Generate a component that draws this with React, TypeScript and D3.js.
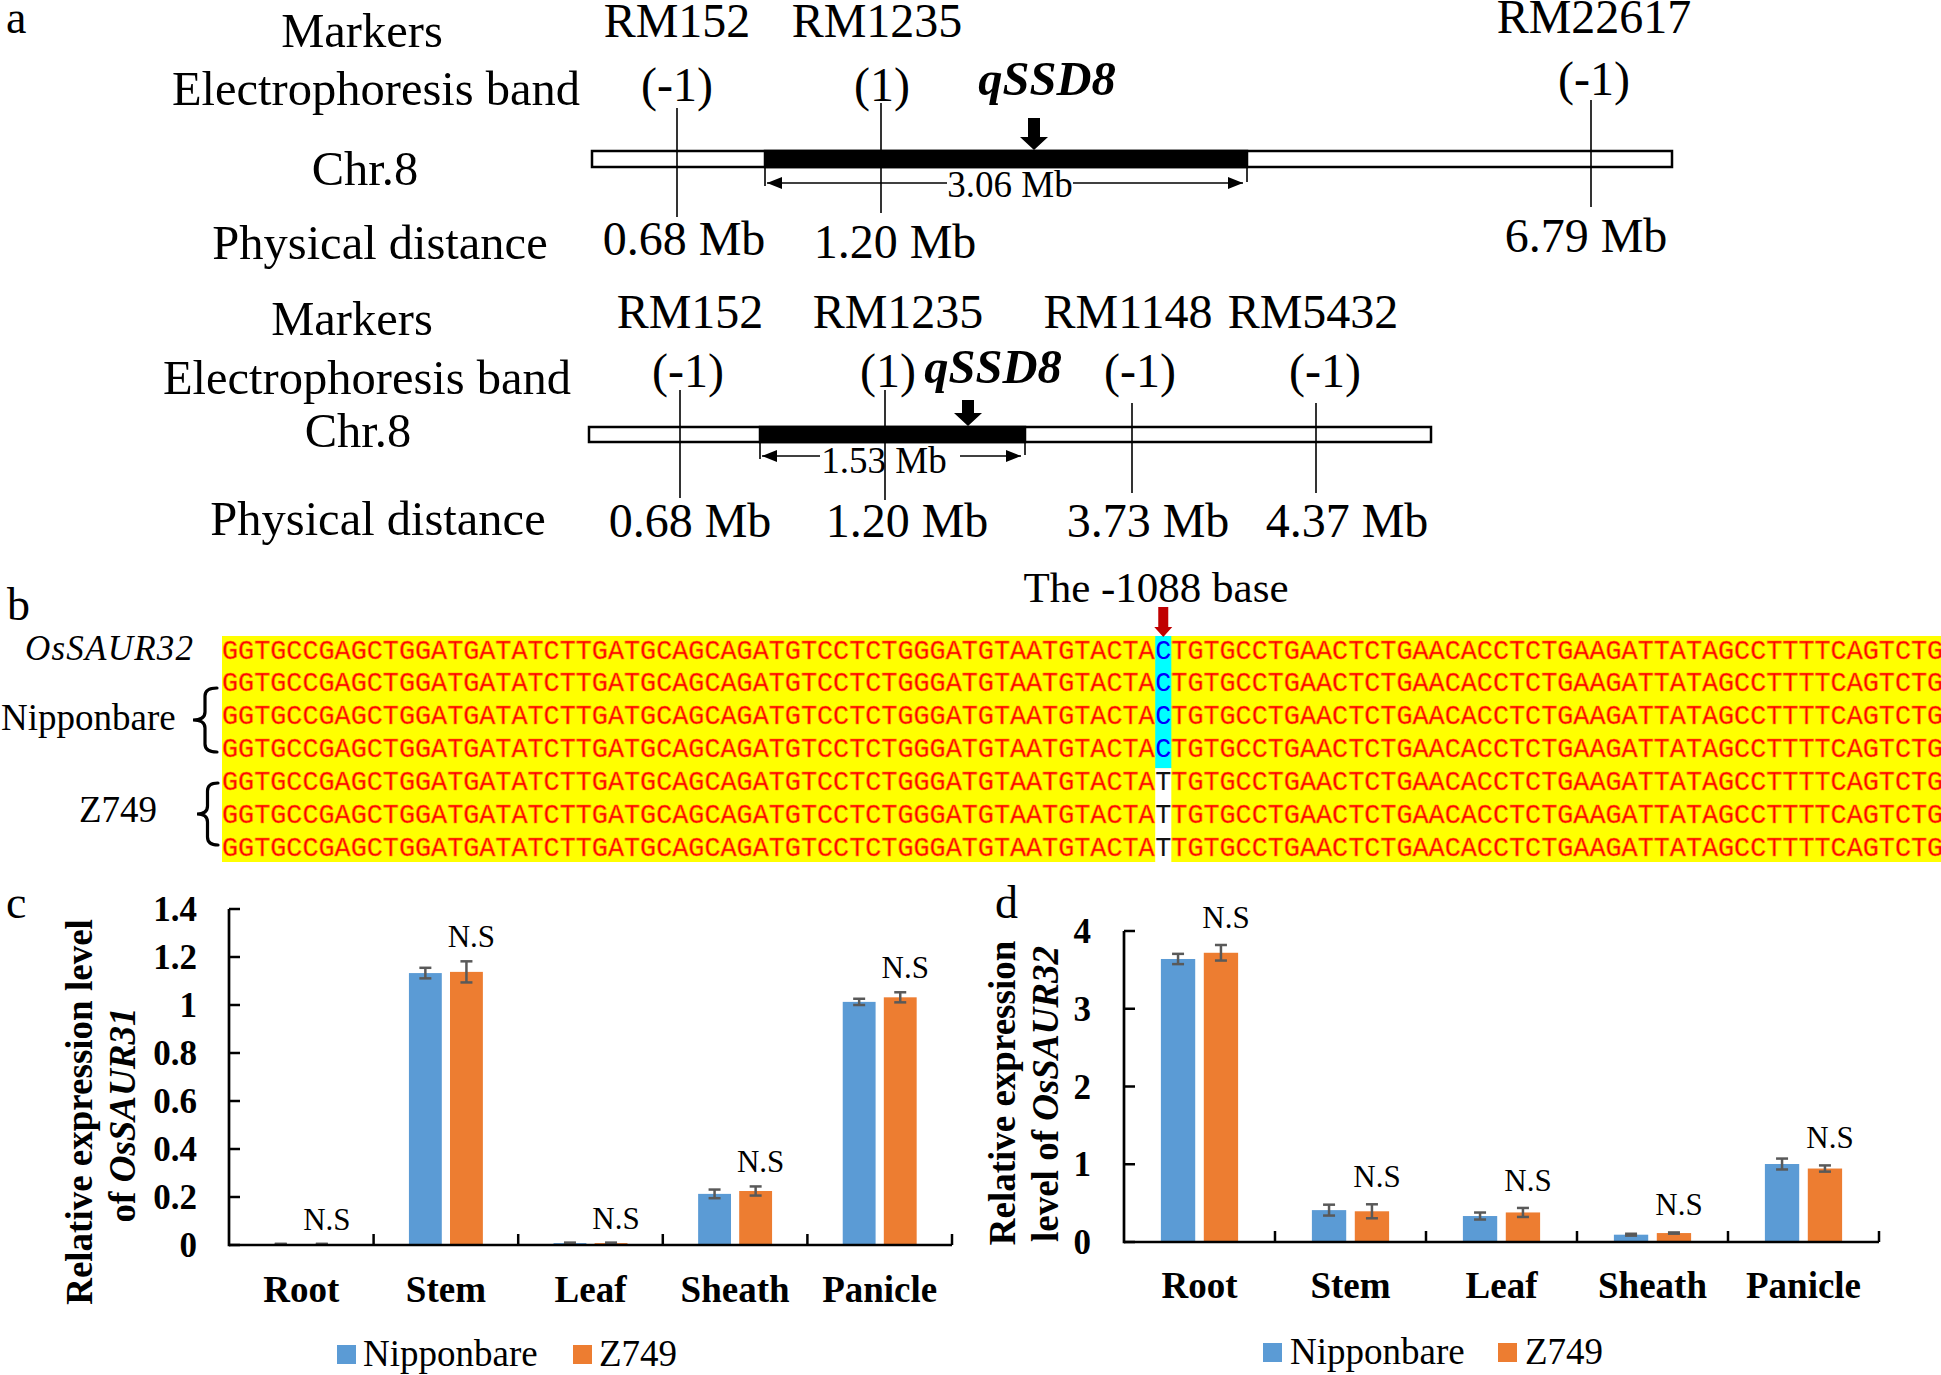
import React from "react";
import * as d3 from "d3";

// ---------------- DATA ----------------
const categories = ["Root", "Stem", "Leaf", "Sheath", "Panicle"];
const seriesNames = ["Nipponbare", "Z749"];

// panel c : OsSAUR31
const cNipponbare = [0.004, 1.133, 0.008, 0.213, 1.013];
const cNipponbareErr = [0.001, 0.022, 0.002, 0.018, 0.013];
const cZ749 = [0.004, 1.138, 0.008, 0.225, 1.032];
const cZ749Err = [0.001, 0.044, 0.002, 0.019, 0.021];
const cTicks = [0, 0.2, 0.4, 0.6, 0.8, 1, 1.2, 1.4];

// panel d : OsSAUR32
const dNipponbare = [3.64, 0.41, 0.334, 0.094, 1.003];
const dNipponbareErr = [0.066, 0.07, 0.045, 0.012, 0.07];
const dZ749 = [3.72, 0.395, 0.38, 0.115, 0.945];
const dZ749Err = [0.1, 0.09, 0.058, 0.008, 0.04];
const dTicks = [0, 1, 2, 3, 4];

// panel a : markers
const topMarkers = ["RM152", "RM1235", "RM22617"];
const topBands = ["(-1)", "(1)", "(-1)"];
const topDistances = ["0.68 Mb", "1.20 Mb", "6.79 Mb"];
const topInterval = "3.06 Mb";
const botMarkers = ["RM152", "RM1235", "RM1148", "RM5432"];
const botBands = ["(-1)", "(1)", "(-1)", "(-1)"];
const botDistances = ["0.68 Mb", "1.20 Mb", "3.73 Mb", "4.37 Mb"];
const botInterval = "1.53 Mb";
const rowLabels = ["Markers", "Electrophoresis band", "Chr.8", "Physical distance"];

// panel b : sequences
const seqPrefix = "GGTGCCGAGCTGGATGATATCTTGATGCAGCAGATGTCCTCTGGGATGTAATGTACTA";
const seqSuffix = "TGTGCCTGAACTCTGAACACCTCTGAAGATTATAGCCTTTTCAGTCTG";
const snpAlleles = ["C", "C", "C", "C", "T", "T", "T"];

// ---------------- LAYOUT ----------------
const SERIF = "'Liberation Serif', 'Times New Roman', serif";
const MONO = "'Liberation Mono', 'Courier New', monospace";
const BLUE = "#5b9bd5";
const ORANGE = "#ed7d31";

const topLayout = {
  chrom: [592, 1672], chromY: 151, chromH: 16, qtl: [765, 1247],
  lineX: [677, 881, 1591], lineTop: [108, 103, 100], lineBot: [217, 213, 207],
  nameX: [677, 877, 1594], nameY: [37, 37, 33],
  bandX: [677, 882, 1594], bandY: [101, 101, 95],
  distX: [684, 895, 1586], distY: [255, 258, 252],
  qX: 1047, qY: 95, arrowX: 1034, arrowTop: 118, arrowTip: 150,
  intY: 183, intTextX: 1010, intTextY: 197, gap: [947, 1073],
  labelX: [362, 376, 365, 380], labelY: [47, 105, 185, 259],
};
const botLayout = {
  chrom: [589, 1431], chromY: 427, chromH: 15, qtl: [760, 1025],
  lineX: [680, 885, 1132, 1316], lineTop: [390, 390, 403, 403], lineBot: [498, 500, 493, 493],
  nameX: [690, 898, 1128, 1313], nameY: [328, 328, 328, 328],
  bandX: [688, 888, 1140, 1325], bandY: [387, 387, 387, 387],
  distX: [690, 907, 1148, 1347], distY: [537, 537, 537, 537],
  qX: 993, qY: 383, arrowX: 968, arrowTop: 400, arrowTip: 426,
  intY: 456, intTextX: 884, intTextY: 473, gap: [820, 960],
  labelX: [352, 367, 358, 378], labelY: [335, 394, 447, 535],
};

function ChromMap({ L, markers, bands, dists, interval }: any) {
  const [c0, c1] = L.chrom;
  const [q0, q1] = L.qtl;
  const y = L.intY;
  const ah = 15, aw = 6;
  return (
    <g fontFamily={SERIF} fill="#000">
      {rowLabels.map((t, i) => (
        <text key={t} x={L.labelX[i]} y={L.labelY[i]} fontSize={48.5} textAnchor="middle">{t}</text>
      ))}
      {markers.map((m: string, i: number) => (
        <g key={m + i}>
          <text x={L.nameX[i]} y={L.nameY[i]} fontSize={48} textAnchor="middle">{m}</text>
          <text x={L.bandX[i]} y={L.bandY[i]} fontSize={48} textAnchor="middle">{bands[i]}</text>
          <text x={L.distX[i]} y={L.distY[i]} fontSize={48} textAnchor="middle">{dists[i]}</text>
        </g>
      ))}
      <rect x={c0} y={L.chromY} width={c1 - c0} height={L.chromH} fill="#fff" stroke="#000" strokeWidth={2.5} />
      <rect x={q0} y={L.chromY} width={q1 - q0} height={L.chromH} fill="#000" stroke="#000" strokeWidth={2.5} />
      {markers.map((m: string, i: number) => (
        <line key={"l" + i} x1={L.lineX[i]} x2={L.lineX[i]} y1={L.lineTop[i]} y2={L.lineBot[i]} stroke="#000" strokeWidth={1.6} />
      ))}
      {/* qSSD8 label + arrow */}
      <text x={L.qX} y={L.qY} fontSize={48.5} fontWeight="bold" fontStyle="italic" textAnchor="middle">qSSD8</text>
      <path
        d={`M${L.arrowX - 6},${L.arrowTop} H${L.arrowX + 6} V${L.arrowTip - 13} H${L.arrowX + 14} L${L.arrowX},${L.arrowTip} L${L.arrowX - 14},${L.arrowTip - 13} H${L.arrowX - 6} Z`}
        fill="#000"
      />
      {/* interval arrow */}
      <line x1={q0} x2={q0} y1={L.chromY + L.chromH} y2={y + 3} stroke="#000" strokeWidth={1.6} />
      <line x1={q1} x2={q1} y1={L.chromY + L.chromH} y2={y - 1} stroke="#000" strokeWidth={1.6} />
      <line x1={q0 + 2} x2={L.gap[0]} y1={y} y2={y} stroke="#000" strokeWidth={1.6} />
      <line x1={L.gap[1]} x2={q1 - 4} y1={y} y2={y} stroke="#000" strokeWidth={1.6} />
      <path d={`M${q0 + 2},${y} l${ah},${-aw} v${2 * aw} Z`} fill="#000" />
      <path d={`M${q1 - 4},${y} l${-ah},${-aw} v${2 * aw} Z`} fill="#000" />
      <text x={L.intTextX} y={L.intTextY} fontSize={37} textAnchor="middle">{interval}</text>
    </g>
  );
}

function bracePath(xE: number, xP: number, y0: number, y1: number) {
  const xm = (xE + xP) / 2;
  const ym = (y0 + y1) / 2;
  const k = 8;
  return `M${xE},${y0} Q${xm},${y0} ${xm},${y0 + k} L${xm},${ym - k} Q${xm},${ym} ${xP},${ym} Q${xm},${ym} ${xm},${ym + k} L${xm},${y1 - k} Q${xm},${y1} ${xE},${y1}`;
}

function SequencePanel() {
  const x0 = 222;
  const cw = 16.09;
  const top = 636;
  const pitch = 32.3;
  const bottom = 862;
  const col = d3.scaleLinear().domain([0, 1]).range([x0, x0 + cw]);
  const snpIdx = seqPrefix.length;
  const rowY = (i: number) => 658.5 + i * 32.9;
  const nNip = snpAlleles.filter((a) => a === "C").length;
  const cyanBottom = top + nNip * pitch + 3;
  return (
    <g>
      <text x={7} y={620} fontFamily={SERIF} fontSize={46}>b</text>
      <rect x={x0} y={top} width={1941 - x0} height={bottom - top} fill="#ffff00" />
      <rect x={col(snpIdx)} y={top} width={cw} height={cyanBottom - top} fill="#00ffff" />
      <rect x={col(snpIdx)} y={cyanBottom} width={cw} height={bottom - cyanBottom} fill="#ffffff" />
      {snpAlleles.map((a, i) => (
        <g key={i} fontFamily={MONO} fontSize={26.8}>
          <text x={col(0)} y={rowY(i)} fill="#ff0000" stroke="#ff8a00" strokeWidth={0.6}>{seqPrefix}</text>
          <text x={col(snpIdx)} y={rowY(i)} fill={a === "C" ? "#0000ff" : "#111"}>{a}</text>
          <text x={col(snpIdx + 1)} y={rowY(i)} fill="#ff0000" stroke="#ff8a00" strokeWidth={0.6}>{seqSuffix}</text>
        </g>
      ))}
      {/* labels */}
      <text x={25} y={660} fontFamily={SERIF} fontSize={35} fontStyle="italic" textLength={168} lengthAdjust="spacing">OsSAUR32</text>
      <text x={1} y={730} fontFamily={SERIF} fontSize={37}>Nipponbare</text>
      <text x={79} y={822} fontFamily={SERIF} fontSize={37}>Z749</text>
      <path d={bracePath(217, 193, 688, 752)} fill="none" stroke="#000" strokeWidth={3.2} strokeLinecap="round" />
      <path d={bracePath(218, 197, 783, 845)} fill="none" stroke="#000" strokeWidth={3.2} strokeLinecap="round" />
      {/* -1088 base */}
      <text x={1156} y={602} fontFamily={SERIF} fontSize={43} textAnchor="middle">The -1088 base</text>
      <path
        d={`M${col(snpIdx + 0.5) - 5},607 H${col(snpIdx + 0.5) + 5} V627 H${col(snpIdx + 0.5) + 9} L${col(snpIdx + 0.5)},637 L${col(snpIdx + 0.5) - 9},627 H${col(snpIdx + 0.5) - 5} Z`}
        fill="#c00000"
      />
    </g>
  );
}

function BarChart({ cfg }: any) {
  const x = d3.scaleBand().domain(categories).range(cfg.xRange).paddingInner(0).paddingOuter(0);
  const xs = d3.scaleBand().domain(seriesNames).range([0, x.bandwidth()]).paddingInner(0.2).paddingOuter(0.86);
  const y = d3.scaleLinear().domain(cfg.yDomain).range(cfg.yRange);
  const y0 = y(0);
  const colors = [BLUE, ORANGE];
  const vals = [cfg.nip, cfg.z];
  const errs = [cfg.nipErr, cfg.zErr];
  const [ax0, ax1] = cfg.xRange;
  const boundaries = categories.map((c) => (x(c) as number) + x.bandwidth());
  return (
    <g fontFamily={SERIF}>
      <text x={cfg.panelX} y={918} fontSize={46}>{cfg.panel}</text>
      {/* bars */}
      {categories.map((c, ci) =>
        seriesNames.map((s, si) => {
          const bx = (x(c) as number) + (xs(s) as number);
          const v = vals[si][ci];
          return <rect key={c + s} x={bx} y={y(v)} width={xs.bandwidth()} height={y0 - y(v)} fill={colors[si]} />;
        })
      )}
      {/* error bars */}
      {categories.map((c, ci) =>
        seriesNames.map((s, si) => {
          const cx = (x(c) as number) + (xs(s) as number) + xs.bandwidth() / 2;
          const v = vals[si][ci];
          const e = errs[si][ci];
          return (
            <g key={"e" + c + s} stroke="#595959" strokeWidth={2.5}>
              <line x1={cx} x2={cx} y1={y(v + e)} y2={y(v - e)} />
              <line x1={cx - 6} x2={cx + 6} y1={y(v + e)} y2={y(v + e)} />
              <line x1={cx - 6} x2={cx + 6} y1={y(v - e)} y2={y(v - e)} />
            </g>
          );
        })
      )}
      {/* N.S labels */}
      {categories.map((c, ci) => {
        const cx = (x(c) as number) + (xs("Z749") as number) + xs.bandwidth() / 2 + 5;
        return (
          <text key={"ns" + c} x={cx} y={y(cfg.z[ci] + cfg.zErr[ci]) - cfg.nsDy} fontSize={31} textAnchor="middle">N.S</text>
        );
      })}
      {/* axes */}
      <line x1={ax0} x2={ax0} y1={y(cfg.yDomain[1])} y2={y0 + 1.3} stroke="#000" strokeWidth={2.7} />
      <line x1={ax0} x2={ax1} y1={y0} y2={y0} stroke="#000" strokeWidth={2.7} />
      {cfg.ticks.map((t: number) => (
        <g key={"t" + t}>
          <line x1={ax0} x2={ax0 + 11} y1={y(t)} y2={y(t)} stroke="#000" strokeWidth={2.5} />
          <text x={cfg.tickLabelX} y={y(t) + 12} fontSize={35} fontWeight="bold" textAnchor="end">{d3.format("~g")(t)}</text>
        </g>
      ))}
      {boundaries.map((b, i) => (
        <line key={"b" + i} x1={b} x2={b} y1={y0} y2={y0 - 11} stroke="#000" strokeWidth={2.5} />
      ))}
      {categories.map((c) => (
        <text key={"xl" + c} x={(x(c) as number) + x.bandwidth() / 2} y={cfg.xLabelY} fontSize={37} fontWeight="bold" textAnchor="middle">{c}</text>
      ))}
      {/* y title */}
      <text transform={`translate(${cfg.t1x},${cfg.t1y}) rotate(-90)`} fontSize={37} fontWeight="bold" textAnchor="middle">{cfg.title1}</text>
      <text transform={`translate(${cfg.t2x},${cfg.t2y}) rotate(-90)`} fontSize={37} fontWeight="bold" textAnchor="middle">
        <tspan>{cfg.title2a}</tspan>
        <tspan fontStyle="italic">{cfg.title2b}</tspan>
      </text>
      {/* legend */}
      {seriesNames.map((s, si) => (
        <g key={"lg" + s}>
          <rect x={cfg.legendX[si]} y={cfg.legendY} width={19} height={19} fill={colors[si]} />
          <text x={cfg.legendX[si] + cfg.legendDx} y={cfg.legendY + 21} fontSize={37}>{s}</text>
        </g>
      ))}
    </g>
  );
}

const cCfg = {
  panel: "c", panelX: 6,
  xRange: [229, 952], yDomain: [0, 1.4], yRange: [1245, 909], ticks: cTicks, tickLabelX: 197,
  nip: cNipponbare, nipErr: cNipponbareErr, z: cZ749, zErr: cZ749Err, nsDy: 14,
  xLabelY: 1302,
  title1: "Relative expression level", t1x: 92, t1y: 1112,
  title2a: "of ", title2b: "OsSAUR31", t2x: 135, t2y: 1115,
  legendX: [337, 573], legendY: 1345, legendDx: 26,
};
const dCfg = {
  panel: "d", panelX: 995,
  xRange: [1124, 1879], yDomain: [0, 4], yRange: [1242, 931], ticks: dTicks, tickLabelX: 1091,
  nip: dNipponbare, nipErr: dNipponbareErr, z: dZ749, zErr: dZ749Err, nsDy: 17,
  xLabelY: 1298,
  title1: "Relative expression", t1x: 1015, t1y: 1093,
  title2a: "level of ", title2b: "OsSAUR32", t2x: 1058, t2y: 1094,
  legendX: [1263, 1498], legendY: 1343, legendDx: 27,
};

export default function App() {
  return (
    <svg width={1941} height={1375} style={{ position: "absolute", left: 0, top: 0, background: "#fff", display: "block" }}>
      <rect width={1941} height={1375} fill="#fff" />
      <text x={6} y={33} fontFamily={SERIF} fontSize={46}>a</text>
      <ChromMap L={topLayout} markers={topMarkers} bands={topBands} dists={topDistances} interval={topInterval} />
      <ChromMap L={botLayout} markers={botMarkers} bands={botBands} dists={botDistances} interval={botInterval} />
      <SequencePanel />
      <BarChart cfg={cCfg} />
      <BarChart cfg={dCfg} />
    </svg>
  );
}
